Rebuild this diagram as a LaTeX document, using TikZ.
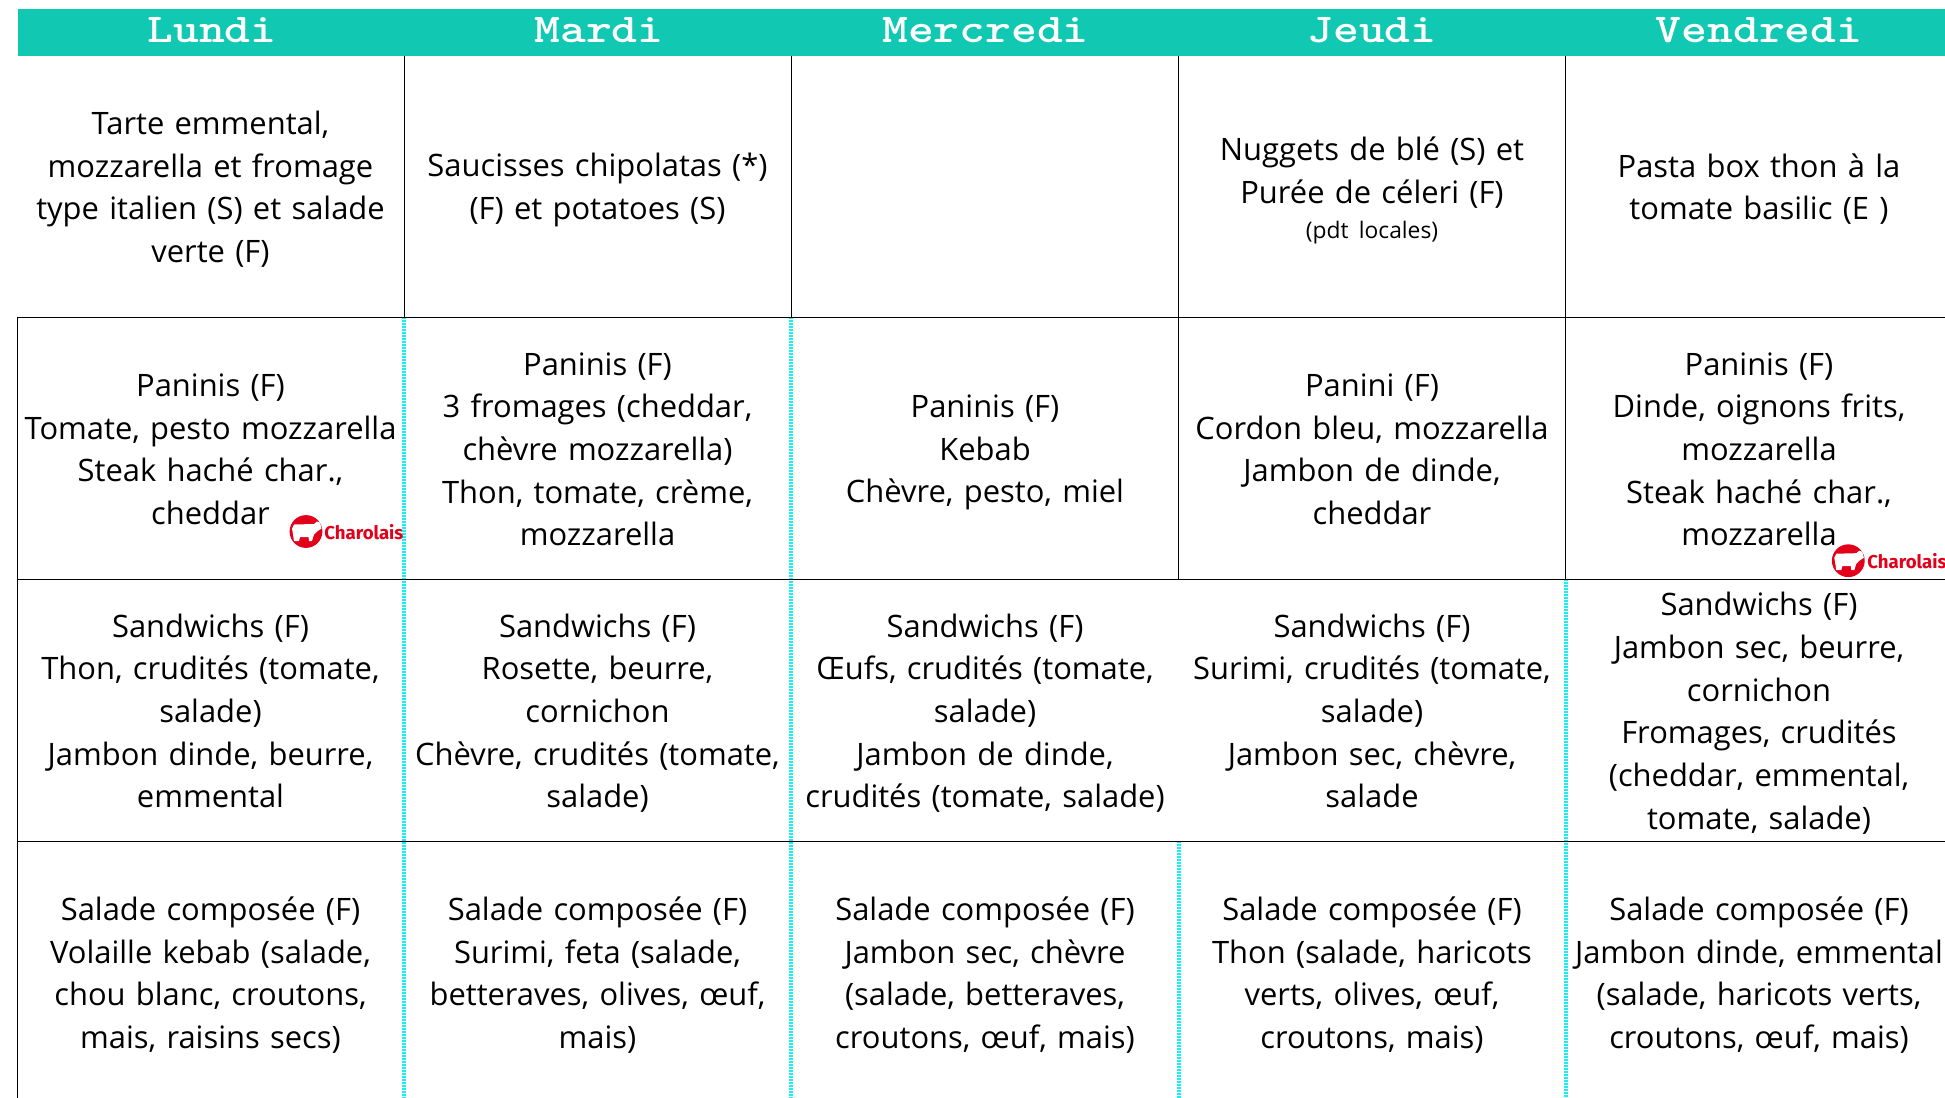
\documentclass[tikz,border=0pt]{standalone}
\usepackage{fontspec}
\setmainfont{Open Sans}
\newfontfamily\chfont{Fira Sans}
\definecolor{hdteal}{HTML}{11C9B3}
\definecolor{dotcyan}{HTML}{19F0F5}
\definecolor{charred}{HTML}{E2001A}
\newcommand{\cellstrut}{\rule[-3.5pt]{0pt}{18.5pt}}
\newcommand{\dayname}[1]{\scalebox{1.2}[1]{#1}}
\newcommand{\cowicon}[1]{%
 \begin{scope}[shift={(#1)}]
  \fill[charred] (0,0) circle (16.4);
  \fill[white] (-14,-3) -- (-12,-7) -- (8,-7.5) -- (11,-10) -- (14,-9) -- (15.5,-3) -- (11,0) -- (8,3) -- (6,9.5) -- (3,9.5) -- (2.5,5.5) -- (-6,5.5) -- (-7,9.5) -- (-12,9.5) -- (-13,3) -- cycle;
 \end{scope}}
\tikzset{
 x=0.5pt,y=-0.5pt,
 cell/.style={align=center,text width=194pt,inner sep=0pt,font=\fontsize{15.45pt}{21.35pt}\selectfont,text=black,
   execute at begin node=\cellstrut,execute at end node=\cellstrut},
 day/.style={font=\ttfamily\bfseries\fontsize{20.5pt}{24pt}\selectfont\addfontfeature{FakeBold=1.5},text=white,inner sep=0pt,anchor=base},
 rule/.style={draw=black,line width=0.5pt},
 dots/.style={draw=dotcyan,line width=2pt,dash pattern=on 1pt off 0.5pt},
 chlabel/.style={font=\chfont\bfseries\fontsize{9.3pt}{10pt}\selectfont,text=charred,inner sep=0pt,anchor=west},
}
\begin{document}
\begin{tikzpicture}
\useasboundingbox (0,0) rectangle (1945,1098);
\fill[white] (0,0) rectangle (1945,1098);
\fill[hdteal] (18,9) rectangle (1945,55.5);
\foreach \n/\x in {a/404,b/791,c/1178.5,d/1565.5}{
 \coordinate (\n0) at (\x,55.5);
 \coordinate (\n1) at (\x,317);
 \coordinate (\n2) at (\x,579);
 \coordinate (\n3) at (\x,841);
 \coordinate (\n4) at (\x,1098);
}
\foreach \r/\y in {1/317,2/579,3/841}{
 \coordinate (L\r) at (17.5,\y);
 \coordinate (R\r) at (1945,\y);
}
\coordinate (L4) at (17.5,1098);
\draw[dots] (a1)--(a4) (b1)--(b4) (c3)--(c4) (d2)--(d4);
\draw[rule] (L1)--(L4);
\draw[rule] (L1)--(R1) (L2)--(R2) (L3)--(R3);
\draw[rule] (a0)--(a1) (b0)--(b1) (c0)--(c2) (d0)--(d2);
\node[day] (hlun) at (212,42) {\dayname{Lundi}};
\node[day] (hmar) at (599,42) {\dayname{Mardi}};
\node[day] (hmer) at (985.5,42) {\dayname{Mercredi}};
\node[day] (hjeu) at (1372,42) {\dayname{Jeudi}};
\node[day] (hven) at (1759,42) {\dayname{Vendredi}};
\node[cell] (r1a) at (210.5,187) {Tarte emmental,\\mozzarella et fromage\\type italien (S) et salade\\verte (F)};
\node[cell] (r1b) at (597.5,187) {Saucisses chipolatas (*)\\(F) et potatoes (S)};
\node[cell] (r1d) at (1372,188) {Nuggets de blé (S) et\\Purée de céleri (F)\\[-4pt]{\fontsize{11.4pt}{14pt}\selectfont (pdt locales)}};
\node[cell] (r1e) at (1759,187) {Pasta box thon à la\\tomate basilic (E )};
\node[cell] (r2a) at (210.5,449) {Paninis (F)\\Tomate, pesto mozzarella\\Steak haché char.,\\cheddar};
\node[cell] (r2b) at (597.5,449) {Paninis (F)\\3 fromages (cheddar,\\chèvre mozzarella)\\Thon, tomate, crème,\\mozzarella};
\node[cell] (r2c) at (985,449) {Paninis (F)\\Kebab\\Chèvre, pesto, miel};
\node[cell] (r2d) at (1372,449) {Panini (F)\\Cordon bleu, mozzarella\\Jambon de dinde,\\cheddar};
\node[cell] (r2e) at (1759,449) {Paninis (F)\\Dinde, oignons frits,\\mozzarella\\Steak haché char.,\\mozzarella};
\node[cell] (r3a) at (210.5,711) {Sandwichs (F)\\Thon, crudités (tomate,\\salade)\\Jambon dinde, beurre,\\emmental};
\node[cell] (r3b) at (597.5,711) {Sandwichs (F)\\Rosette, beurre,\\cornichon\\Chèvre, crudités (tomate,\\salade)};
\node[cell] (r3c) at (985,711) {Sandwichs (F)\\Œufs, crudités (tomate,\\salade)\\Jambon de dinde,\\crudités (tomate, salade)};
\node[cell] (r3d) at (1372,711) {Sandwichs (F)\\Surimi, crudités (tomate,\\salade)\\Jambon sec, chèvre,\\salade};
\node[cell] (r3e) at (1759,711) {Sandwichs (F)\\Jambon sec, beurre,\\cornichon\\Fromages, crudités\\(cheddar, emmental,\\tomate, salade)};
\node[cell] (r4a) at (210.5,973) {Salade composée (F)\\Volaille kebab (salade,\\chou blanc, croutons,\\mais, raisins secs)};
\node[cell] (r4b) at (597.5,973) {Salade composée (F)\\Surimi, feta (salade,\\betteraves, olives, œuf,\\mais)};
\node[cell] (r4c) at (985,973) {Salade composée (F)\\Jambon sec, chèvre\\(salade, betteraves,\\croutons, œuf, mais)};
\node[cell] (r4d) at (1372,973) {Salade composée (F)\\Thon (salade, haricots\\verts, olives, œuf,\\croutons, mais)};
\node[cell] (r4e) at (1759,973) {Salade composée (F)\\Jambon dinde, emmental\\(salade, haricots verts,\\croutons, œuf, mais)};
\cowicon{306,531.5}
\node[chlabel] (cha) at (324,532) {Charolais};
\cowicon{1848.3,560.7}
\node[chlabel] (chb) at (1867,561) {Charolais};
\end{tikzpicture}
\end{document}
